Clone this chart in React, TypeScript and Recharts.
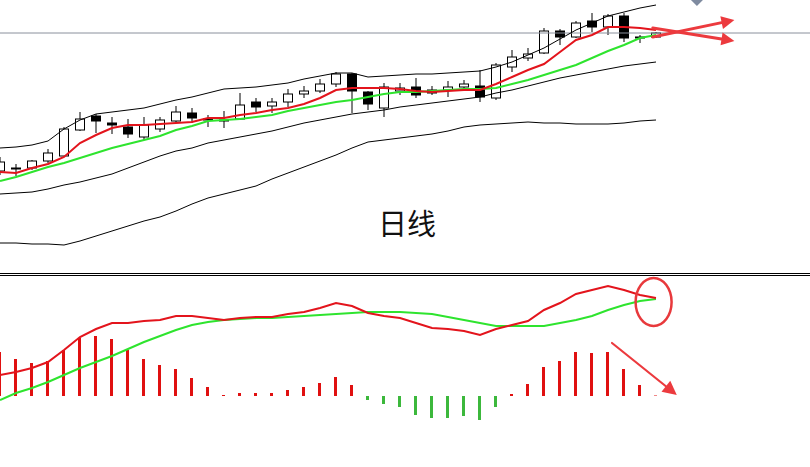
import React from 'react';
import { ComposedChart, Bar, Line, XAxis, YAxis, ReferenceLine, ReferenceDot, Cell } from 'recharts';

// ---- price pane (daily candles) ----
const open = [1901,1904,1904,1911,1916,1942,1956,1949,1945,1935,1943,1951,1959,1953,1951,1953,1970,1966,1970,1978,1981,1988,1998,1980,1964,1981,1985,1982,1982,1985,1986,1974,2005,2014,2019,2041,2035,2051,2045,2056,2035,2035];
const high = [1915,1908,1912,1923,1945,1960,1958,1955,1953,1955,1955,1966,1964,1957,1961,1979,1974,1974,1983,1986,1993,2000,1999,1981,1989,1989,1994,1986,1991,1992,2002,2009,2022,2024,2044,2043,2051,2059,2058,2059,2037,2040];
const low = [1897,1896,1902,1909,1915,1941,1939,1938,1934,1932,1940,1950,1949,1945,1944,1952,1960,1959,1965,1974,1979,1985,1959,1962,1955,1977,1974,1977,1975,1982,1970,1972,2000,2011,2018,2027,2034,2040,2037,2030,2029,2034];
const close = [1910,1904,1911,1919,1943,1953,1951,1947,1938,1947,1952,1960,1954,1952,1952,1967,1965,1970,1978,1981,1988,1998,1981,1968,1985,1984,1977,1979,1985,1988,1975,2007,2015,2018,2041,2035,2049,2045,2056,2034,2034,2039];
const ma5 = [1900,1899,1904,1908,1915,1929,1937,1944,1947,1947,1948,1949,1950,1954,1954,1957,1959,1962,1964,1968,1974,1982,1984,1984,1984,1983,1981,1980,1981,1982,1982,1988,1995,2002,2008,2020,2032,2037,2045,2045,2044,2042];
const ma10 = [1891,1895,1900,1905,1909,1914,1919,1924,1928,1932,1936,1942,1946,1951,1952,1953,1955,1957,1961,1964,1967,1970,1972,1975,1978,1980,1980,1981,1982,1983,1983,1984,1988,1992,1997,2002,2007,2014,2021,2027,2034,2037];
const bollUp = [1924,1925,1927,1931,1943,1952,1958,1960,1962,1964,1968,1972,1975,1979,1983,1984,1985,1987,1989,1993,1996,1999,1999,1995,1996,1997,1998,1998,1999,2000,2001,2005,2010,2017,2024,2033,2042,2049,2056,2060,2064,2067];
const bollLow = [1878,1879,1880,1883,1887,1890,1894,1898,1904,1910,1916,1921,1924,1929,1932,1935,1938,1941,1945,1949,1952,1955,1958,1960,1962,1965,1967,1969,1971,1973,1975,1979,1982,1986,1990,1994,1997,2000,2003,2006,2008,2010];
const outerLow = [1829,1829,1828,1828,1827,1831,1836,1841,1846,1851,1855,1861,1868,1874,1878,1882,1886,1893,1899,1905,1911,1917,1924,1930,1932,1934,1936,1938,1941,1945,1947,1948,1949,1950,1949,1949,1948,1948,1948,1949,1951,1952];
const lastPrice = 2039;
const paneTitle = '日线';

// ---- MACD pane ----
const dif = [2.1,2.4,2.8,3.4,4.6,5.9,6.7,7.3,7.3,7.5,7.6,8.0,8.0,7.8,7.6,7.8,7.9,7.9,8.2,8.4,8.8,9.3,9.0,8.3,8.0,7.8,7.3,6.8,6.7,6.5,6.1,6.7,7.1,7.5,8.6,9.3,10.2,10.6,11.0,10.6,10.1,9.8];
const dea = [-0.4,0.3,0.8,1.4,2.1,2.8,3.4,4.0,4.7,5.4,6.0,6.6,7.1,7.4,7.6,7.7,7.8,7.8,7.9,8.0,8.1,8.2,8.3,8.4,8.4,8.4,8.3,8.2,7.9,7.6,7.3,7.0,7.0,7.0,7.0,7.3,7.6,8.0,8.6,9.1,9.5,9.7];
const hist = [4.4,3.7,3.3,3.5,4.6,5.8,6.0,5.7,4.6,3.7,3.1,2.7,1.8,0.9,0.1,0.3,0.3,0.3,0.6,0.9,1.3,1.9,1.1,-0.4,-0.8,-1.1,-1.9,-2.2,-2.2,-2.0,-2.4,-1.1,0.2,1.2,2.9,3.5,4.4,4.3,4.4,2.7,1.1,0.05];

// ---- annotations (data coordinates) ----
const arrowUp = [{ x: 40.8, y: 2035 }, { x: 45.9, y: 2052 }];
const arrowDown = [{ x: 40.8, y: 2044 }, { x: 45.9, y: 2031 }];
const macdArrow = [{ x: 38.25, y: 5.3 }, { x: 42.3, y: 0.1 }];
const macdCircle = { x: 40.85, y: 9.4 };

const priceData = open.map((o, i) => ({
  i, o, h: high[i], l: low[i], c: close[i], range: [low[i], high[i]],
  ma5: ma5[i], ma10: ma10[i], up: bollUp[i], lo: bollLow[i], outer: outerLow[i],
}));
const macdData = dif.map((d, i) => ({ i, dif: d, dea: dea[i], hist: hist[i] }));

const W = 810;
const X_DOMAIN = [0, 50.625];

const Candle = (props: any) => {
  const { x, y, width, height, payload } = props;
  const p = payload || props;
  const { o, h, l, c } = p;
  const top = Math.min(y, y + height);
  const hgt = Math.abs(height);
  const ratio = h - l > 0 ? hgt / (h - l) : 0;
  const yOf = (v: number) => top + (h - v) * ratio;
  const cx = x + width / 2;
  const bTop = yOf(Math.max(o, c));
  const bBot = yOf(Math.min(o, c));
  const upC = c >= o;
  return (
    <g>
      <line x1={cx} x2={cx} y1={top} y2={top + hgt} stroke="#000" strokeWidth={1} />
      <rect x={x + 0.5} y={bTop} width={width - 1} height={Math.max(1, bBot - bTop)}
        fill={upC ? '#fff' : '#000'} stroke="#000" strokeWidth={1} />
    </g>
  );
};

const makeArrow = (color: string, width: number, head: number) => (p: any) => {
  const { x1, y1, x2, y2 } = p;
  const dx = x2 - x1, dy = y2 - y1;
  const len = Math.hypot(dx, dy) || 1;
  const ux = dx / len, uy = dy / len;
  const bx = x2 - ux * head, by = y2 - uy * head;
  const nx = -uy, ny = ux;
  const hw = head * 0.5;
  return (
    <g>
      <line x1={x1} y1={y1} x2={bx} y2={by} stroke={color} strokeWidth={width} strokeLinecap="round" />
      <polygon points={`${x2},${y2} ${bx + nx * hw},${by + ny * hw} ${bx - nx * hw},${by - ny * hw}`} fill={color} />
    </g>
  );
};

const lineCommon = { type: 'linear' as const, dot: false, activeDot: false, isAnimationActive: false, legendType: 'none' as const };

export default function App() {
  return (
    <div style={{ position: 'absolute', left: 0, top: 0, width: W, height: 467, background: '#fff', fontFamily: '"Noto Sans CJK SC", "Noto Sans", sans-serif', overflow: 'hidden' }}>
      <div style={{ position: 'absolute', left: 0, top: 0 }}>
        <ComposedChart width={W} height={276} data={priceData} margin={{ top: 0, right: 0, bottom: 0, left: 0 }}>
          <XAxis type="number" dataKey="i" domain={X_DOMAIN} allowDataOverflow hide />
          <YAxis type="number" domain={[1796, 2072]} allowDataOverflow hide />
          <ReferenceLine y={lastPrice} stroke="#8a909c" strokeWidth={1} />
          <ReferenceLine y={1798.5} stroke="#000" strokeWidth={1} />
          <ReferenceLine y={1796.5} stroke="#000" strokeWidth={1} />
          <Line {...lineCommon} dataKey="up" stroke="#000" strokeWidth={1} />
          <Line {...lineCommon} dataKey="lo" stroke="#000" strokeWidth={1} />
          <Line {...lineCommon} dataKey="outer" stroke="#000" strokeWidth={1} />
          <Bar dataKey="range" barSize={10} shape={Candle} isAnimationActive={false} />
          <Line {...lineCommon} dataKey="ma10" stroke="#2ee42e" strokeWidth={2} />
          <Line {...lineCommon} dataKey="ma5" stroke="#e3141c" strokeWidth={2} />
          <ReferenceLine segment={arrowUp} shape={makeArrow('#ec3a3e', 3, 13)} />
          <ReferenceLine segment={arrowDown} shape={makeArrow('#ec3a3e', 3, 13)} />
          <ReferenceDot x={43.56} y={2072} r={0} ifOverflow="visible"
            shape={(p: any) => <polygon points={`${p.cx - 6},${p.cy} ${p.cx + 6},${p.cy} ${p.cx},${p.cy + 6}`} fill="#7f8ba0" />} />
          <ReferenceDot x={25.44} y={1847} r={0} fill="none" stroke="none"
            label={{ value: paneTitle, position: 'center', fontSize: 29, fill: '#111', fontFamily: '"Noto Sans CJK SC", sans-serif' }} />
        </ComposedChart>
      </div>
      <div style={{ position: 'absolute', left: 0, top: 276 }}>
        <ComposedChart width={W} height={191} data={macdData} margin={{ top: 0, right: 0, bottom: 0, left: 0 }}>
          <XAxis type="number" dataKey="i" domain={X_DOMAIN} allowDataOverflow hide />
          <YAxis type="number" domain={[-7.1, 12]} allowDataOverflow hide />
          <Bar dataKey="hist" barSize={3} isAnimationActive={false}>
            {hist.map((v, i) => <Cell key={i} fill={v >= 0 ? '#e01010' : '#3cb83c'} />)}
          </Bar>
          <Line {...lineCommon} dataKey="dea" stroke="#2ee42e" strokeWidth={2} />
          <Line {...lineCommon} dataKey="dif" stroke="#e3141c" strokeWidth={2} />
          <ReferenceDot x={macdCircle.x} y={macdCircle.y} r={0} ifOverflow="visible"
            shape={(p: any) => <ellipse cx={p.cx} cy={p.cy} rx={18} ry={24} fill="none" stroke="#e8393c" strokeWidth={2.5} />} />
          <ReferenceLine segment={macdArrow} shape={makeArrow('#ec3a3e', 2.2, 14)} />
        </ComposedChart>
      </div>
    </div>
  );
}
